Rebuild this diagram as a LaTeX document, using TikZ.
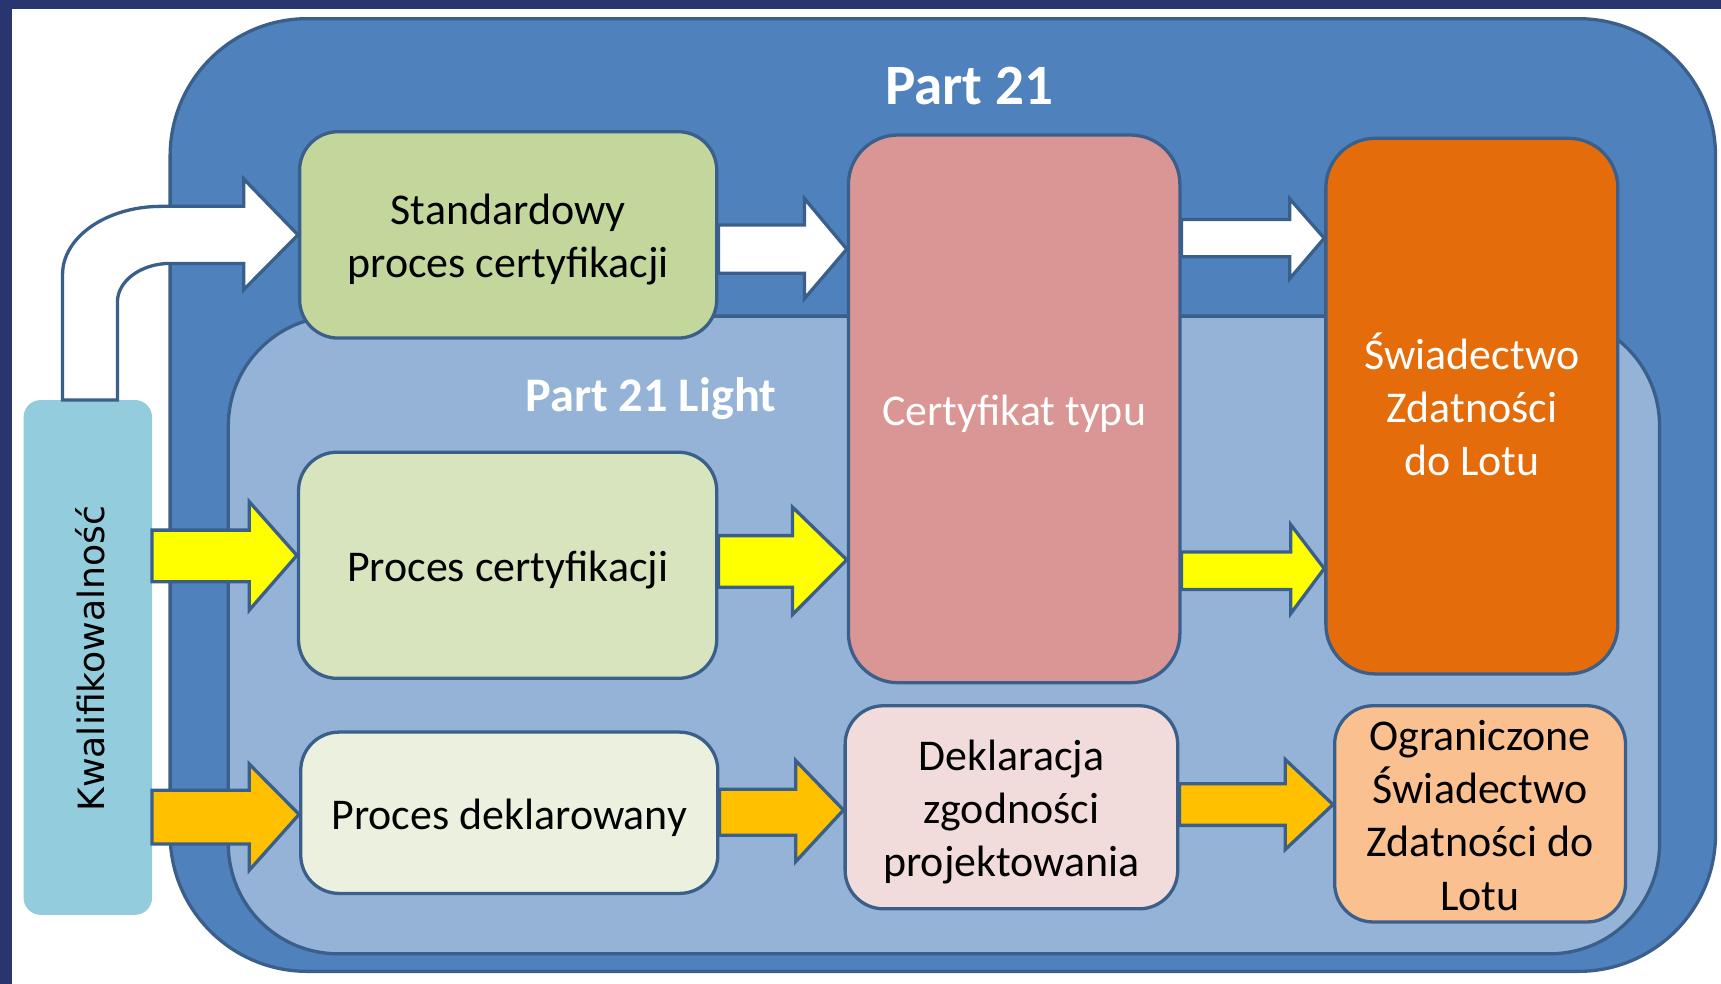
\documentclass[tikz,border=0pt]{standalone}
\usepackage{fontspec}
\setmainfont{Carlito}
\newfontfamily\kwfont{DejaVu Sans}
\newcommand\firstline{\rule{0pt}{40pt}}
\definecolor{navy}{HTML}{283571}
\definecolor{border}{HTML}{3A5F8B}
\definecolor{outerc}{HTML}{4F81BD}
\definecolor{innerc}{HTML}{95B3D7}
\definecolor{kwc}{HTML}{93CDDD}
\definecolor{stdc}{HTML}{C3D69B}
\definecolor{pcc}{HTML}{D7E4BD}
\definecolor{pdc}{HTML}{EBF1DE}
\definecolor{ctc}{HTML}{D99694}
\definecolor{dzc}{HTML}{F2DCDB}
\definecolor{swc}{HTML}{E46C0A}
\definecolor{ogc}{HTML}{FAC090}
\definecolor{yelc}{HTML}{FFFF00}
\definecolor{orac}{HTML}{FFC000}
\begin{document}
\begin{tikzpicture}[x=1pt,y=-1pt,
  bord/.style={draw=border, line width=3pt},
  box/.style={bord, rounded corners=35pt, inner sep=0pt, align=center,
    font=\fontsize{40}{48.5}\selectfont,
    execute at begin node={\rule{0pt}{40pt}},
    execute at end node={\rule[-10pt]{0pt}{0pt}}},
  barrow/.style={draw=border, line width=3pt, line join=miter},
  title/.style={anchor=base, text=white, inner sep=0pt}]
\useasboundingbox (0,0) rectangle (1568,896.5);
\fill[white] (0,0) rectangle (1568,896.5);
\fill[navy] (0,0) rectangle (11,896.5);
\fill[navy] (0,0) rectangle (1568,8);
% containers
\draw[bord, fill=outerc, rounded corners=125pt] (155,17) rectangle (1563,885);
\draw[bord, fill=innerc, rounded corners=100pt] (208,288) rectangle (1512,869);
\node[title, font=\bfseries\fontsize{52}{60}\selectfont] (t1) at (883,95) {Part 21};
\node[title, font=\bfseries\fontsize{44}{52}\selectfont] (t2) at (593,375) {Part 21 Light};
% boxes
\node[draw=kwc, line width=1pt, fill=kwc, rounded corners=15pt, minimum width=116pt, minimum height=468pt, inner sep=0pt] (kw) at (80,599) {};
\node[rotate=90, anchor=base, inner sep=0pt, font=\kwfont\fontsize{33}{39}\selectfont] (kwl) at (95,600) {Kwalifikowalność};
\node[box, fill=stdc, minimum width=380pt, minimum height=188pt] (std) at (463,214) {\firstline Standardowy\\proces certyfikacji};
\node[box, fill=pcc, minimum width=381pt, minimum height=206pt] (pc) at (462.5,515) {Proces certyfikacji};
\node[box, fill=pdc, minimum width=380pt, minimum height=147pt] (pd) at (464,740.5) {Proces deklarowany};
\node[box, fill=ctc, text=white, rounded corners=45pt, minimum width=302pt, minimum height=499pt] (ct) at (924,372.5) {Certyfikat typu};
\node[box, fill=dzc, minimum width=303pt, minimum height=185pt] (dz) at (921.5,735.5) {\firstline Deklaracja\\zgodności\\projektowania};
\node[box, fill=swc, text=white, rounded corners=45pt, minimum width=266pt, minimum height=488pt] (sw) at (1341,370) {\firstline Świadectwo\\Zdatności\\do Lotu};
\node[box, fill=ogc, minimum width=265pt, minimum height=197pt] (og) at (1348.5,741.5) {\firstline Ograniczone\\Świadectwo\\Zdatności do\\Lotu};
% bent white arrow
\draw[barrow, fill=white] (57,0 |- kw.north) -- (57,250)
  .. controls (57,216) and (97,188) .. (147,188) -- (222,188) -- (222,163)
  -- (std.west) -- (222,264) -- (222,240) -- (155,240)
  .. controls (128.5,240) and (107,256) .. (107,275) -- (107,0 |- kw.north) -- cycle;
% white arrows
\draw[barrow, fill=white] (std.east |- 0,205) -- (733,205) -- (733,181) -- (ct.west |- 0,227)
  -- (733,272) -- (733,249) -- (std.east |- 0,249) -- cycle;
\draw[barrow, fill=white] (ct.east |- 0,200) -- (1175,200) -- (1175,181) -- (sw.west |- 0,217)
  -- (1175,254) -- (1175,234) -- (ct.east |- 0,234) -- cycle;
% yellow arrows
\draw[barrow, fill=yelc] (kw.east |- 0,483) -- (227,483) -- (227,457) -- (pc.west |- 0,506)
  -- (227,556) -- (227,530) -- (kw.east |- 0,530) -- cycle;
\draw[barrow, fill=yelc] (pc.east |- 0,488) -- (722,488) -- (722,462) -- (ct.west |- 0,510)
  -- (722,560) -- (722,535) -- (pc.east |- 0,535) -- cycle;
\draw[barrow, fill=yelc] (ct.east |- 0,503) -- (1176,503) -- (1176,478) -- (sw.west |- 0,518)
  -- (1176,559) -- (1176,537) -- (ct.east |- 0,537) -- cycle;
% orange arrows
\draw[barrow, fill=orac] (kw.east |- 0,720) -- (227,720) -- (227,696) -- (pd.west |- 0,742)
  -- (227,793) -- (227,769) -- (kw.east |- 0,769) -- cycle;
\draw[barrow, fill=orac] (pd.east |- 0,719) -- (725,719) -- (725,693) -- (dz.west |- 0,738)
  -- (725,785) -- (725,761) -- (pd.east |- 0,761) -- cycle;
\draw[barrow, fill=orac] (dz.east |- 0,714) -- (1171,714) -- (1171,692) -- (og.west |- 0,733)
  -- (1171,774) -- (1171,752) -- (dz.east |- 0,752) -- cycle;
\end{tikzpicture}
\end{document}
